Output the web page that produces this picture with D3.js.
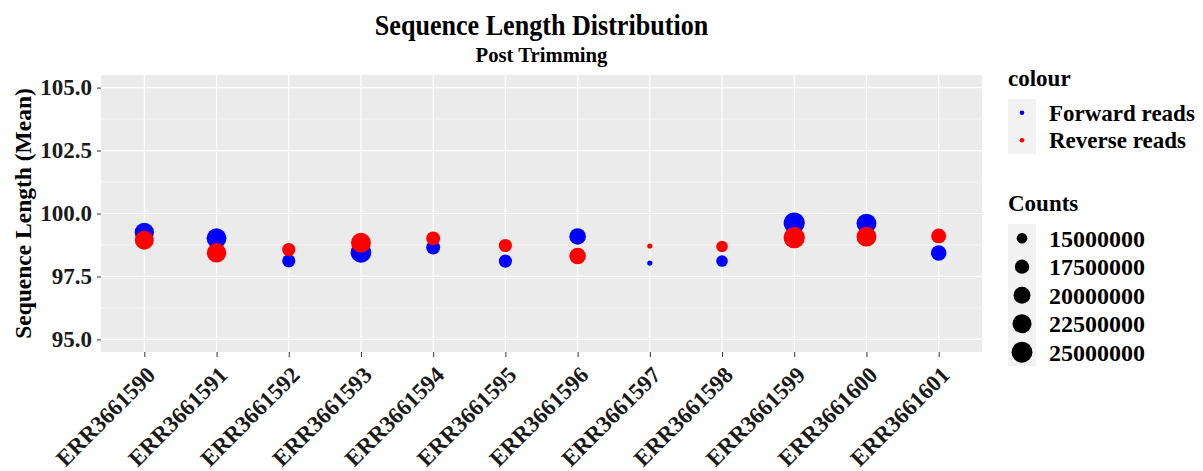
<!DOCTYPE html>
<html>
<head>
<meta charset="utf-8">
<script src="https://cdn.jsdelivr.net/npm/d3@7"></script>
<style>
  body { margin: 0; background: #fff; }
  text { font-family: "Liberation Serif", "Times New Roman", serif; font-weight: bold; }
</style>
</head>
<body>
<script>
// data
var samples = ['ERR3661590', 'ERR3661591', 'ERR3661592', 'ERR3661593', 'ERR3661594', 'ERR3661595',
	'ERR3661596', 'ERR3661597', 'ERR3661598', 'ERR3661599', 'ERR3661600', 'ERR3661601'];
var forwardMean = [99.25, 99.02, 98.12, 98.45, 98.65, 98.11, 99.09, 98.03, 98.11, 99.62, 99.60, 98.43];
var reverseMean = [98.94, 98.44, 98.57, 98.84, 99.01, 98.73, 98.31, 98.71, 98.69, 99.04, 99.08, 99.11];
var forwardCount = [22700000, 23600000, 16600000, 24600000, 17200000, 16600000,
	19600000, 13650000, 15500000, 25450000, 23600000, 18600000];
var reverseCount = [22300000, 22950000, 16600000, 23600000, 17200000, 16600000,
	19600000, 13650000, 15500000, 25450000, 23600000, 18000000];
var yTicks = [95, 97.5, 100, 102.5, 105];
var yMinor = [96.25, 98.75, 101.25, 103.75];
var countBreaks = [15000000, 17500000, 20000000, 22500000, 25000000];
var series = ['Forward reads', 'Reverse reads'];
var seriesColor = ['#0000ff', '#ff0000'];

var W = 1203, H = 471;
var margin = { top: 75, right: 221, bottom: 119, left: 101 };
var width = W - margin.left - margin.right;
var height = H - margin.top - margin.bottom;

var svg = d3.select('body')
	.append('svg')
	.attr('width', W)
	.attr('height', H);

var g = svg.append('g')
	.attr('transform', 'translate(' + margin.left + ',' + margin.top + ')');

// scales
var x = d3.scalePoint().domain(samples).range([0, width]).padding(0.6);
var y = d3.scaleLinear().domain([94.5, 105.5]).range([height, 0]);

var allCounts = forwardCount.concat(reverseCount);
var countNorm = d3.scaleLinear().domain(d3.extent(allCounts)).range([0, 1]);
var radiusScale = d3.scaleLinear().domain([0, 1]).range([2.6, 10.6]);
function radius (v) { return radiusScale(Math.sqrt(Math.max(0, countNorm(v)))); }

// panel
g.append('rect')
	.attr('width', width)
	.attr('height', height)
	.attr('fill', '#ebebeb');

g.selectAll('.minor')
	.data(yMinor).enter()
	.append('line')
	.attr('x1', 0).attr('x2', width)
	.attr('y1', function (d) { return y(d); })
	.attr('y2', function (d) { return y(d); })
	.attr('stroke', '#fff').attr('stroke-width', 0.6);

g.selectAll('.hgrid')
	.data(yTicks).enter()
	.append('line')
	.attr('x1', 0).attr('x2', width)
	.attr('y1', function (d) { return y(d); })
	.attr('y2', function (d) { return y(d); })
	.attr('stroke', '#fff').attr('stroke-width', 1.2);

g.selectAll('.vgrid')
	.data(samples).enter()
	.append('line')
	.attr('y1', 0).attr('y2', height)
	.attr('x1', function (d) { return x(d); })
	.attr('x2', function (d) { return x(d); })
	.attr('stroke', '#fff').attr('stroke-width', 1.2);

// axes
var y_axis = d3.axisLeft(y)
	.tickValues(yTicks)
	.tickFormat(d3.format('.1f'))
	.tickSize(4)
	.tickPadding(5);

var yg = g.append('g').call(y_axis);
yg.select('.domain').remove();
yg.selectAll('.tick line').attr('stroke', '#333');
yg.selectAll('.tick text')
	.attr('fill', '#1a1a1a')
	.style('font-size', '23px');

var x_axis = d3.axisBottom(x).tickSize(5).tickFormat('');
var xg = g.append('g')
	.attr('transform', 'translate(0,' + height + ')')
	.call(x_axis);
xg.select('.domain').remove();
xg.selectAll('.tick line').attr('stroke', '#333');

g.selectAll('.xlab')
	.data(samples).enter()
	.append('text')
	.attr('transform', function (d) { return 'translate(' + (x(d) + 1) + ',' + (height + 13) + ') rotate(-45)'; })
	.attr('text-anchor', 'end')
	.attr('dy', '0.7em')
	.attr('fill', '#1a1a1a')
	.style('font-size', '23px')
	.text(function (d) { return d; });

// points: forward first, reverse drawn on top
var means = [forwardMean, reverseMean];
var counts = [forwardCount, reverseCount];
series.forEach(function (s, k) {
	g.append('g')
		.selectAll('circle')
		.data(samples).enter()
		.append('circle')
		.attr('cx', function (d) { return x(d); })
		.attr('cy', function (d, i) { return y(means[k][i]); })
		.attr('r', function (d, i) { return radius(counts[k][i]); })
		.attr('fill', seriesColor[k]);
});

// titles (glyphs in the original are a bit condensed)
svg.append('text')
	.attr('transform', 'translate(' + (margin.left + width / 2) + ',35) scale(0.9,1)')
	.attr('text-anchor', 'middle')
	.style('font-size', '29px')
	.text('Sequence Length Distribution');

svg.append('text')
	.attr('transform', 'translate(' + (margin.left + width / 2) + ',62) scale(0.94,1)')
	.attr('text-anchor', 'middle')
	.style('font-size', '22px')
	.text('Post Trimming');

svg.append('text')
	.attr('transform', 'translate(31,' + (margin.top + height / 2) + ') rotate(-90)')
	.attr('text-anchor', 'middle')
	.style('font-size', '23.5px')
	.text('Sequence Length (Mean)');

// legend: colour
var lx = 1008;
var leg = svg.append('g');
leg.append('text').attr('x', lx).attr('y', 86).style('font-size', '23px').text('colour');
leg.append('rect').attr('x', lx).attr('y', 99).attr('width', 28).attr('height', 55).attr('fill', '#f2f2f2');
series.forEach(function (s, k) {
	var cy = 112.75 + k * 27.5;
	leg.append('circle').attr('cx', lx + 14).attr('cy', cy).attr('r', 2.3).attr('fill', seriesColor[k]);
	leg.append('text').attr('x', 1049).attr('y', cy).attr('dy', '0.35em')
		.style('font-size', '23px').text(s);
});

// legend: counts
leg.append('text').attr('x', lx).attr('y', 211).style('font-size', '23px').text('Counts');
leg.append('rect').attr('x', lx).attr('y', 224).attr('width', 28).attr('height', 142).attr('fill', '#f2f2f2');
countBreaks.forEach(function (c, k) {
	var cy = 238.2 + k * 28.5;
	leg.append('circle').attr('cx', lx + 14).attr('cy', cy).attr('r', radius(c)).attr('fill', '#000');
	leg.append('text').attr('x', 1049).attr('y', cy).attr('dy', '0.35em')
		.style('font-size', '24px').text(c);
});
</script>
</body>
</html>
